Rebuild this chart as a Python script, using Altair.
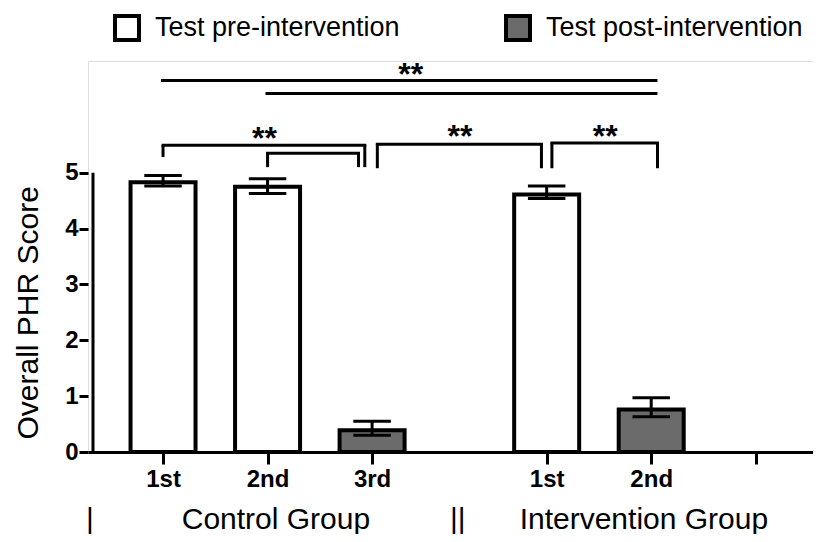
import altair as alt
import pandas as pd

# ---------------- data ----------------
bar_pos = [1, 2, 3, 4.67, 5.67]
tick_labels = ["1st", "2nd", "3rd", "1st", "2nd"]
empty_tick = 6.67
tests = ["Test pre-intervention", "Test pre-intervention", "Test post-intervention",
         "Test pre-intervention", "Test post-intervention"]
means = [4.83, 4.75, 0.39, 4.61, 0.76]
err_low = [4.76, 4.63, 0.30, 4.54, 0.63]
err_high = [4.95, 4.89, 0.55, 4.76, 0.97]

legend_names = ["Test pre-intervention", "Test post-intervention"]
legend_colors = ["#ffffff", "#6b6b6b"]

bracket_left = [1.0, 2.0, 3.05, 4.72]
bracket_right = [2.93, 2.87, 4.62, 5.73]
bracket_top = [5.49, 5.35, 5.51, 5.53]
bracket_left_bottom = [5.28, 5.10, 5.08, 5.08]
bracket_right_bottom = [5.10, 5.10, 5.08, 5.08]

long_left = [0.98, 1.98]
long_right = [5.73, 5.73]
long_y = [6.65, 6.42]

star_x = [3.37, 1.97, 3.84, 5.23]
star_y = [6.57, 5.42, 5.46, 5.46]
star_text = ["**", "**", "**", "**"]

group_names = ["Control Group", "Intervention Group"]
group_x = [2.08, 5.60]
sep_text = ["|", "||"]
sep_x = [0.30, 3.82]
group_y = -1.38

x_domain = [0.33, 7.17]
y_domain = [0, 7.0]
y_ticks = [0, 1, 2, 3, 4, 5]

# ---------------- layout ----------------
W, H = 725, 391
PX_PER_X = W / (x_domain[1] - x_domain[0])
PX_PER_Y = H / (y_domain[1] - y_domain[0])
cap_half = 19 / PX_PER_X
FONT = "Liberation Sans"

bars = pd.DataFrame({"pos": bar_pos, "test": tests, "mean": means,
                     "lo": err_low, "hi": err_high})
bars["cl"] = bars["pos"] - cap_half
bars["cr"] = bars["pos"] + cap_half

tick_vals = bar_pos + [empty_tick]
tick_lbls = tick_labels + [""]
label_expr = "".join(
    f"abs(datum.value - {v}) < 0.01 ? '{l}' : " for v, l in zip(tick_vals, tick_lbls)
) + "''"

xs = alt.Scale(domain=x_domain, nice=False, zero=False)
ys = alt.Scale(domain=y_domain, nice=False)

title_center = H - (y_ticks[0] + y_ticks[-1]) / 2 * PX_PER_Y

x_axis = alt.Axis(values=tick_vals, labelExpr=label_expr, title=None, grid=False,
                  labelFont=FONT, labelFontSize=24, labelFontWeight="bold",
                  labelColor="black", labelPadding=3, tickSize=12, tickWidth=3,
                  tickColor="black", domainColor="black", domainWidth=3)
y_axis = alt.Axis(values=y_ticks, format="d", title="Overall PHR Score", grid=False,
                  domain=False, labelFont=FONT, labelFontSize=24,
                  labelFontWeight="bold", labelColor="black", labelPadding=1,
                  tickSize=9, tickWidth=3, tickColor="black",
                  titleFont=FONT, titleFontSize=30, titleFontWeight="normal",
                  titleColor="black", titlePadding=21, titleY=title_center)

bar_layer = alt.Chart(bars).mark_bar(size=65, stroke="black", strokeWidth=4).encode(
    x=alt.X("pos:Q", scale=xs, axis=x_axis),
    y=alt.Y("mean:Q", scale=ys, axis=y_axis),
    fill=alt.Fill("test:N",
                  scale=alt.Scale(domain=legend_names, range=legend_colors),
                  legend=alt.Legend(orient="none", legendX=25, legendY=-47,
                                    direction="horizontal", title=None,
                                    symbolType="square", symbolSize=576,
                                    symbolStrokeColor="black", symbolStrokeWidth=4,
                                    symbolOpacity=1, labelLimit=500,
                                    labelFont=FONT, labelFontSize=27,
                                    labelColor="black", labelOffset=14,
                                    columnPadding=98, padding=0)),
)

err_v = alt.Chart(bars).mark_rule(color="black", strokeWidth=3).encode(
    x=alt.X("pos:Q", scale=xs), y=alt.Y("lo:Q", scale=ys), y2="hi:Q")
cap_hi = alt.Chart(bars).mark_rule(color="black", strokeWidth=3).encode(
    x=alt.X("cl:Q", scale=xs), x2="cr:Q", y=alt.Y("hi:Q", scale=ys))
cap_lo = alt.Chart(bars).mark_rule(color="black", strokeWidth=3).encode(
    x=alt.X("cl:Q", scale=xs), x2="cr:Q", y=alt.Y("lo:Q", scale=ys))

br = pd.DataFrame({"l": bracket_left, "r": bracket_right, "t": bracket_top,
                   "lb": bracket_left_bottom, "rb": bracket_right_bottom})
br_h = alt.Chart(br).mark_rule(color="black", strokeWidth=3, strokeCap="square").encode(
    x=alt.X("l:Q", scale=xs), x2="r:Q", y=alt.Y("t:Q", scale=ys))
br_l = alt.Chart(br).mark_rule(color="black", strokeWidth=3).encode(
    x=alt.X("l:Q", scale=xs), y=alt.Y("lb:Q", scale=ys), y2="t:Q")
br_r = alt.Chart(br).mark_rule(color="black", strokeWidth=3).encode(
    x=alt.X("r:Q", scale=xs), y=alt.Y("rb:Q", scale=ys), y2="t:Q")

ll = pd.DataFrame({"l": long_left, "r": long_right, "y": long_y})
long_layer = alt.Chart(ll).mark_rule(color="black", strokeWidth=3).encode(
    x=alt.X("l:Q", scale=xs), x2="r:Q", y=alt.Y("y:Q", scale=ys))

st = pd.DataFrame({"x": star_x, "y": star_y, "t": star_text})
star_layer = alt.Chart(st).mark_text(font=FONT, fontSize=32, fontWeight="bold",
                                     color="black", baseline="alphabetic").encode(
    x=alt.X("x:Q", scale=xs), y=alt.Y("y:Q", scale=ys), text="t:N")

gr = pd.DataFrame({"x": group_x + sep_x, "t": group_names + sep_text,
                   "y": [group_y] * 4})
group_layer = alt.Chart(gr).mark_text(font=FONT, fontSize=30, color="black",
                                      baseline="alphabetic").encode(
    x=alt.X("x:Q", scale=xs), y=alt.Y("y:Q", scale=ys), text="t:N")

yl = pd.DataFrame({"x": [x_domain[0]], "y0": [y_ticks[0]], "y1": [y_ticks[-1]]})
y_line = alt.Chart(yl).mark_rule(color="black", strokeWidth=3).encode(
    x=alt.X("x:Q", scale=xs), y=alt.Y("y0:Q", scale=ys), y2="y1:Q")

chart = alt.layer(bar_layer, err_v, cap_hi, cap_lo, br_h, br_l, br_r, long_layer,
                  star_layer, group_layer, y_line).properties(
    width=W, height=H,
    autosize=alt.AutoSizeParams(type="none"),
    padding={"left": 80, "top": 53, "right": 0, "bottom": 82},
).configure_view(stroke=None).configure(background="white")

chart.save("out.html", embed_options={"renderer": "svg", "actions": False})
